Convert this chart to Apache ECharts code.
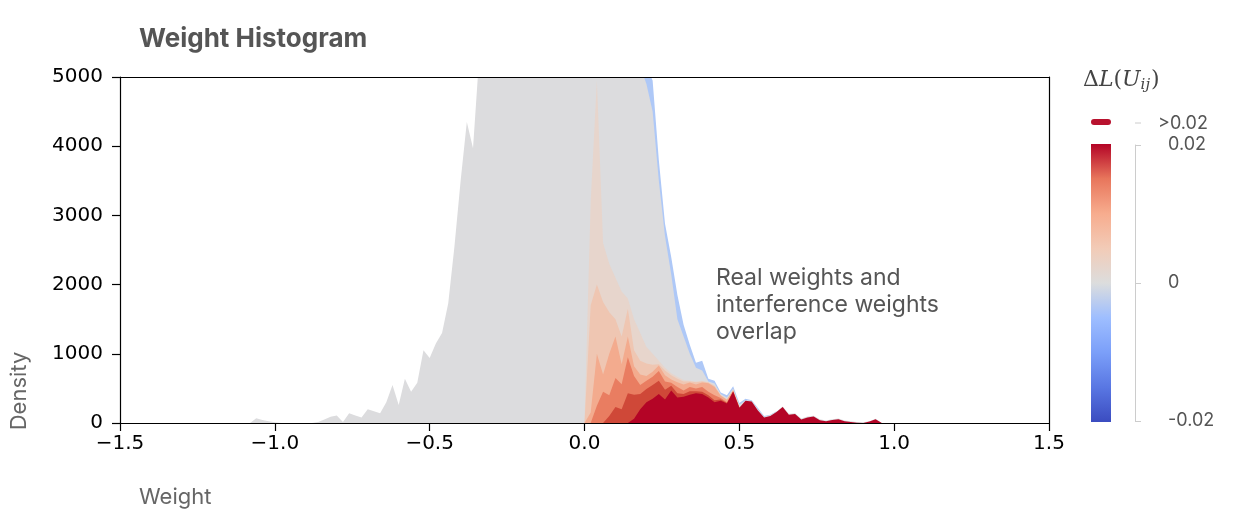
<!DOCTYPE html>
<html>
<head>
<meta charset="utf-8">
<script src="https://cdn.jsdelivr.net/npm/echarts@6/dist/echarts.min.js"></script>
<style>
html, body { margin: 0; padding: 0; background: #fff; }
#chart { width: 1234px; height: 528px; }
</style>
</head>
<body>
<div id="chart"></div>
<script>
// histogram bins (weight), step 0.02
var binStart = -1.10;
var binStep = 0.02;

// top of the grey (dL ~ 0) band, whole range -1.10 .. 1.00
var grayTop = [
    0, 0, 70, 45, 25, 10, 0, 0, 0, 0,
    0, 0, 15, 50, 90, 110, 15, 140, 110, 80,
    200, 170, 140, 300, 550, 260, 640, 450, 580, 1050,
    940, 1150, 1300, 1730, 2550, 3500, 4350, 3970, 5300, 6600,
    7600, 8400, 9000, 9500, 9800, 10100, 10300, 10200, 10100, 9900,
    9600, 9300, 9000, 8700, 8400, 8000, 7800, 7500, 7200, 7000,
    6700, 6400, 6100, 5700, 5150, 4900, 4500, 3500, 2700, 2150,
    1500, 1250, 1000, 800, 760, 600, 570, 420, 370, 500,
    265, 330, 320, 200, 90, 115, 165, 240, 135, 140,
    65, 95, 105, 55, 35, 55, 65, 35, 25, 15,
    10, 25, 60, 0, 0, 0
];

// negative dL band on the right flank, 0.12 .. 0.62
var blueStart = 0.12;
var blueTop = [
    6400, 6100, 5800, 5500, 5150, 4950, 3800, 2880, 2400, 1850,
    1420, 1130, 870, 900, 640, 610, 440, 400, 530, 290,
    350, 330, 215, 100, 120, 170
];

// positive dL bands, 0.00 .. 0.52
var warmStart = 0.00;
var faintTop = [0, 3200, 4950, 2600, 2300, 2100, 1900, 1800, 1500, 1300, 1100, 1000, 900, 800, 720, 670, 620, 610, 600, 610, 590, 540, 405, 345, 480, 245, 0];
var peachTop = [0, 1700, 2000, 1750, 1600, 1500, 1250, 1650, 1050, 900, 860, 840, 850, 760, 690, 640, 600, 600, 590, 600, 585, 535, 400, 340, 478, 242, 0];
var salmonTop = [0, 150, 1000, 700, 1000, 1250, 850, 1250, 820, 700, 680, 740, 830, 690, 630, 590, 555, 585, 555, 585, 575, 520, 395, 335, 475, 235, 0];
var orangeTop = [0, 0, 250, 450, 400, 650, 560, 950, 680, 550, 610, 670, 750, 600, 580, 520, 470, 520, 500, 520, 450, 400, 360, 300, 460, 225, 0];
var redTop = [0, 0, 0, 0, 100, 230, 200, 430, 410, 420, 490, 550, 610, 480, 540, 430, 420, 460, 460, 450, 400, 330, 340, 290, 455, 222, 0];

// dL > 0.02, 0.14 .. 0.96
var darkRedStart = 0.14;
var darkRedTop = [
    0, 60, 200, 300, 350, 420, 340, 470, 370, 380,
    410, 430, 420, 370, 300, 320, 280, 450, 220, 320,
    310, 180, 80, 100, 160, 230, 120, 130, 50, 80,
    95, 40, 25, 45, 55, 25, 15, 5, 0, 20,
    55, 0
];

var colorbarTicks = [-0.02, 0, 0.02];
var coolwarm = ['#3b4cc0', '#5977e3', '#7b9ff9', '#9ebeff', '#dcdddd', '#f2cbb7', '#f7ac8e', '#e8765c', '#b40426'];

var chart = echarts.init(document.getElementById('chart'));

function toPoints(start, values) {
    return values.map(function (v, i) {
        return [+(start + i * binStep).toFixed(2), v];
    });
}

function band(name, start, values, color) {
    return {
        name: name,
        type: 'line',
        xAxisIndex: 0,
        yAxisIndex: 0,
        data: toPoints(start, values),
        symbol: 'none',
        showSymbol: false,
        silent: true,
        clip: true,
        lineStyle: { width: 0 },
        areaStyle: { color: color, opacity: 1 }
    };
}

var tickFont = { fontFamily: 'DejaVu Sans', fontSize: 20, color: '#000' };
var axisBlack = { onZero: false, lineStyle: { color: '#000', width: 1.2 } };
var tickBlack = { show: true, length: 8, lineStyle: { color: '#000', width: 1.2 } };

var option = {
    animation: false,
    backgroundColor: '#fff',
    grid: [
        { left: 120, right: 185, top: 77, bottom: 105 },
        { left: 1135, width: 1, top: 145, height: 276 }
    ],
    xAxis: [
        {
            type: 'value', gridIndex: 0, min: -1.5, max: 1.5, interval: 0.5, z: 5,
            axisLine: axisBlack,
            axisTick: tickBlack,
            axisLabel: Object.assign({ margin: 11, formatter: function (v) { return v.toFixed(1).replace('-', '\u2212'); } }, tickFont),
            splitLine: { show: false }
        },
        {
            type: 'value', gridIndex: 0, position: 'top', min: -1.5, max: 1.5, z: 5,
            axisLine: axisBlack, axisTick: { show: false }, axisLabel: { show: false }, splitLine: { show: false }
        },
        { type: 'value', gridIndex: 1, show: false }
    ],
    yAxis: [
        {
            type: 'value', gridIndex: 0, min: 0, max: 5000, interval: 1000, z: 5,
            axisLine: axisBlack,
            axisTick: tickBlack,
            axisLabel: Object.assign({ margin: 17, formatter: function (v) { return String(v); } }, tickFont),
            splitLine: { show: false }
        },
        {
            type: 'value', gridIndex: 0, position: 'right', min: 0, max: 5000, z: 5,
            axisLine: axisBlack, axisTick: { show: false }, axisLabel: { show: false }, splitLine: { show: false }
        },
        {
            type: 'value', gridIndex: 1, position: 'left',
            min: colorbarTicks[0], max: colorbarTicks[2], interval: 0.02,
            axisLine: { show: true, onZero: false, lineStyle: { color: '#cccccc', width: 1 } },
            axisTick: { show: true, inside: true, length: 6, lineStyle: { color: '#cccccc', width: 1 } },
            axisLabel: {
                inside: true, margin: 33, color: '#555', fontFamily: 'Inter', fontSize: 18,
                formatter: function (v) { return Math.abs(v) < 1e-9 ? '0' : v.toFixed(2); }
            },
            splitLine: { show: false }
        }
    ],
    series: [
        band('dL < 0', blueStart, blueTop, '#aec8f7'),
        band('dL ~ 0', binStart, grayTop, '#dcdcde'),
        band('dL 0.0025', warmStart, faintTop, '#e7d5cc'),
        band('dL 0.005', warmStart, peachTop, '#efc6b2'),
        band('dL 0.01', warmStart, salmonTop, '#f3ab8e'),
        band('dL 0.015', warmStart, orangeTop, '#e97d61'),
        band('dL 0.02', warmStart, redTop, '#cf4838'),
        band('dL > 0.02', darkRedStart, darkRedTop, '#b40426')
    ],
    graphic: [
        {
            type: 'text', x: 139, y: 39,
            style: { text: 'Weight Histogram', fill: '#555', font: 'bold 26px Inter', textAlign: 'left', textVerticalAlign: 'middle' }
        },
        {
            type: 'text', x: 19, y: 391, rotation: Math.PI / 2,
            style: { text: 'Density', fill: '#666', font: '22px Inter', textAlign: 'center', textVerticalAlign: 'middle' }
        },
        {
            type: 'text', x: 139, y: 497,
            style: { text: 'Weight', fill: '#666', font: '22px Inter', textAlign: 'left', textVerticalAlign: 'middle' }
        },
        {
            type: 'text', x: 716, y: 305,
            style: {
                text: 'Real weights and\ninterference weights\noverlap',
                fill: '#555', font: '23px Inter', lineHeight: 27,
                textAlign: 'left', textVerticalAlign: 'middle'
            }
        },
        {
            type: 'text', x: 1083, y: 80,
            style: {
                text: '{d|\u0394}{i|L}{n|(}{i|U}{s|ij}{n|)}',
                textVerticalAlign: 'middle',
                rich: {
                    d: { fontFamily: 'DejaVu Serif', fontSize: 22, fill: '#444' },
                    i: { fontFamily: 'DejaVu Serif', fontStyle: 'italic', fontSize: 22, fill: '#444' },
                    n: { fontFamily: 'DejaVu Serif', fontSize: 22, fill: '#444' },
                    s: { fontFamily: 'DejaVu Serif', fontStyle: 'italic', fontSize: 15, fill: '#444', padding: [10, 1, 0, 0] }
                }
            }
        },
        {
            type: 'rect', shape: { x: 1091, y: 144, width: 20, height: 278 },
            style: {
                fill: new echarts.graphic.LinearGradient(0, 1, 0, 0, coolwarm.map(function (c, i) {
                    return { offset: i / (coolwarm.length - 1), color: c };
                }))
            }
        },
        {
            type: 'rect', shape: { x: 1091, y: 119, width: 20, height: 6, r: 3 },
            style: { fill: '#b8122e' }
        },
        {
            type: 'line', shape: { x1: 1135, y1: 123, x2: 1141, y2: 123 },
            style: { stroke: '#cccccc', lineWidth: 1 }
        },
        {
            type: 'text', x: 1158, y: 124,
            style: { text: '>0.02', fill: '#555', font: '18px Inter', textAlign: 'left', textVerticalAlign: 'middle' }
        }
    ]
};

chart.setOption(option);
</script>
</body>
</html>
